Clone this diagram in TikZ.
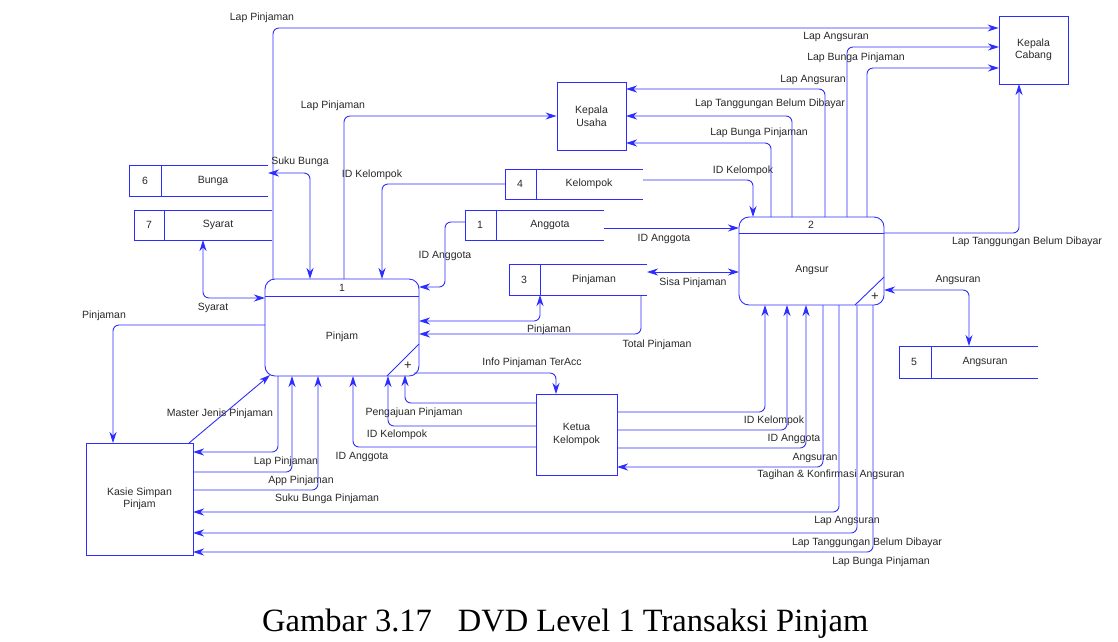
\documentclass[tikz,border=0pt]{standalone}
\usepackage{fontspec}
\setmainfont{Liberation Sans}
\newfontfamily\capfont{Liberation Serif}
\usetikzlibrary{arrows.meta}
\definecolor{dfdblue}{RGB}{45,45,255}
\definecolor{txt}{RGB}{40,40,40}
\newcommand\lblfont{\fontsize{10.5pt}{12.5pt}\selectfont}
\tikzset{
  myarr/.tip={Stealth[length=11pt,width=7pt,inset=3.5pt]},
  flow/.style={draw=dfdblue, line width=0.9pt, rounded corners=6pt, -myarr},
  bflow/.style={draw=dfdblue, line width=0.9pt, rounded corners=6pt, myarr-myarr},
  lbl/.style={text=txt, font=\lblfont, inner sep=0pt},
  ext/.style={draw=dfdblue, line width=0.9pt, text=txt, font=\lblfont, align=center, inner sep=0pt},
  procbox/.style={draw=dfdblue, line width=0.9pt, rounded corners=10pt, inner sep=0pt},
  shp/.style={draw=dfdblue, line width=0.9pt},
}
\begin{document}
\begin{tikzpicture}[x=1pt,y=-1pt]
\useasboundingbox (0,0) rectangle (1118,641);

% external entities
\node[ext, minimum width=69pt, minimum height=68pt] (kc) at (1033.5,50) {Kepala\\Cabang};
\node[ext, minimum width=69pt, minimum height=68pt] (ku) at (591.5,116) {Kepala\\Usaha};
\node[ext, minimum width=81pt, minimum height=81pt] (ketua) at (576.5,434.5) {Ketua\\Kelompok};
\node[ext, minimum width=107pt, minimum height=112pt] (kasie) at (139.5,499) {Kasie Simpan\\Pinjam};

% process 1 Pinjam
\node[procbox, minimum width=154pt, minimum height=97pt] (pinjam) at (342,327.5) {};
\draw[shp] (265,296) -- (419,296);
\draw[shp] (419,344) -- (387,376);
\node[lbl] (p1num) at (342,288) {1};
\node[lbl] (p1name) at (342,337) {Pinjam};
\node[lbl, font=\fontsize{13pt}{13pt}\selectfont] (p1plus) at (408,366) {+};

% process 2 Angsur
\node[procbox, minimum width=145pt, minimum height=88pt] (angsur) at (811.5,261) {};
\draw[shp] (739,233) -- (884,233);
\draw[shp] (884,277) -- (855,305);
\node[lbl] (p2num) at (811,225) {2};
\node[lbl] (p2name) at (812,270) {Angsur};
\node[lbl, font=\fontsize{13pt}{13pt}\selectfont] (p2plus) at (875,297) {+};

% data stores
\draw[shp] (268,165) -- (129,165) -- (129,196) -- (268,196); \draw[shp] (161,165) -- (161,196);
\node[lbl] (s6n) at (145,180.5) {6}; \node[lbl] (s6) at (213,180.5) {Bunga};
\draw[shp] (272,210) -- (134,210) -- (134,240) -- (272,240); \draw[shp] (164,210) -- (164,240);
\node[lbl] (s7n) at (149,225) {7}; \node[lbl] (s7) at (218,225) {Syarat};
\draw[shp] (643,169) -- (505,169) -- (505,199) -- (643,199); \draw[shp] (536,169) -- (536,199);
\node[lbl] (s4n) at (520,184) {4}; \node[lbl] (s4) at (589,184) {Kelompok};
\draw[shp] (604,210) -- (465,210) -- (465,240) -- (604,240); \draw[shp] (496,210) -- (496,240);
\node[lbl] (s1n) at (480,225) {1}; \node[lbl] (s1) at (550,225) {Anggota};
\draw[shp] (647,264) -- (509,264) -- (509,295) -- (647,295); \draw[shp] (540,264) -- (540,295);
\node[lbl] (s3n) at (524,280) {3}; \node[lbl] (s3) at (594,280) {Pinjaman};
\draw[shp] (1038,346) -- (899,346) -- (899,378) -- (1038,378); \draw[shp] (931,346) -- (931,378);
\node[lbl] (s5n) at (914,362) {5}; \node[lbl] (s5) at (985,362) {Angsuran};

% flows around Pinjam
\draw[flow] (273,279) -- (273,28) -- (kc.west |- 0,28);
\node[lbl] at (262,18) {Lap Pinjaman};
\draw[flow] (344,279) -- (344,116) -- (ku.west);
\node[lbl] at (333,106) {Lap Pinjaman};
\draw[bflow] (268,173) -- (310,173) -- (310,279);
\node[lbl] at (300,162) {Suku Bunga};
\draw[flow] (505,184) -- (382,184) -- (382,279);
\node[lbl] at (372,175) {ID Kelompok};
\draw[flow] (465,222) -- (445,222) -- (445,287) -- (419,287);
\node[lbl] at (445,256) {ID Anggota};
\draw[bflow] (203,240) -- (203,298) -- (265,298);
\node[lbl] at (213,308) {Syarat};
\draw[bflow] (540,295) -- (540,321) -- (419,321);
\node[lbl] at (549,330) {Pinjaman};
\draw[flow] (641,295) -- (641,334) -- (419,334);
\node[lbl] at (657,345) {Total Pinjaman};
\draw[flow] (414,373) -- (556,373) -- (556,394);
\node[lbl] at (532,363) {Info Pinjaman TerAcc};
\draw[flow] (536,403) -- (405,403) -- (405,375);
\node[lbl] at (414,413) {Pengajuan Pinjaman};
\draw[flow] (536,426) -- (388,426) -- (388,376);
\node[lbl] at (397,435) {ID Kelompok};
\draw[flow] (536,447) -- (353,447) -- (353,376);
\node[lbl] at (362,457) {ID Anggota};
\draw[flow] (278,376) -- (278,452) -- (193,452);
\node[lbl] at (286,462) {Lap Pinjaman};
\draw[flow] (193,472) -- (292,472) -- (292,376);
\node[lbl] at (301,481) {App Pinjaman};
\draw[flow] (193,490) -- (318,490) -- (318,376);
\node[lbl] at (327,499) {Suku Bunga Pinjaman};
\draw[flow] (189,443) -- (270,375);
\node[lbl] at (220,414) {Master Jenis Pinjaman};
\draw[flow] (265,325) -- (113,325) -- (113,443);
\node[lbl] at (104,316) {Pinjaman};

% flows around Angsur
\draw[flow] (643,180) -- (753,180) -- (753,217);
\node[lbl] at (743,171) {ID Kelompok};
\draw[flow] (604,228) -- (739,228);
\node[lbl] at (664,239) {ID Anggota};
\draw[bflow] (647,272) -- (739,272);
\node[lbl] at (693,283) {Sisa Pinjaman};
\draw[flow] (771,217) -- (771,143) -- (626,143);
\node[lbl] at (759,133) {Lap Bunga Pinjaman};
\draw[flow] (792,217) -- (792,116) -- (626,116);
\node[lbl] at (770,104) {Lap Tanggungan Belum Dibayar};
\draw[flow] (825,217) -- (825,89) -- (626,89);
\node[lbl] at (813,80) {Lap Angsuran};
\draw[flow] (847,217) -- (847,47) -- (999,47);
\node[lbl] at (836,37) {Lap Angsuran};
\draw[flow] (867,217) -- (867,68) -- (999,68);
\node[lbl] at (856,58) {Lap Bunga Pinjaman};
\draw[flow] (884,233) -- (1019,233) -- (1019,84);
\node[lbl] at (1027,242) {Lap Tanggungan Belum Dibayar};
\draw[bflow] (884,290) -- (969,290) -- (969,346);
\node[lbl] at (958,280) {Angsuran};
\draw[flow] (617,412) -- (765,412) -- (765,305);
\node[lbl] at (774,421) {ID Kelompok};
\draw[flow] (617,430) -- (787,430) -- (787,305);
\node[lbl] at (794,439) {ID Anggota};
\draw[flow] (617,448) -- (806,448) -- (806,305);
\node[lbl] at (815,458) {Angsuran};
\draw[flow] (823,305) -- (823,467) -- (617,467);
\node[lbl] at (831,475) {Tagihan \& Konfirmasi Angsuran};
\draw[flow] (839,305) -- (839,512) -- (193,512);
\node[lbl] at (847,521) {Lap Angsuran};
\draw[flow] (857,305) -- (857,533) -- (193,533);
\node[lbl] at (867,543) {Lap Tanggungan Belum Dibayar};
\draw[flow] (873,305) -- (873,552) -- (193,552);
\node[lbl] at (881,562) {Lap Bunga Pinjaman};

% caption
\node[anchor=west, inner sep=0pt, font=\capfont\fontsize{32.5pt}{34pt}\selectfont] (cap) at (262,624) {Gambar 3.17\hspace{26pt}DVD Level 1 Transaksi Pinjam};
\end{tikzpicture}
\end{document}
